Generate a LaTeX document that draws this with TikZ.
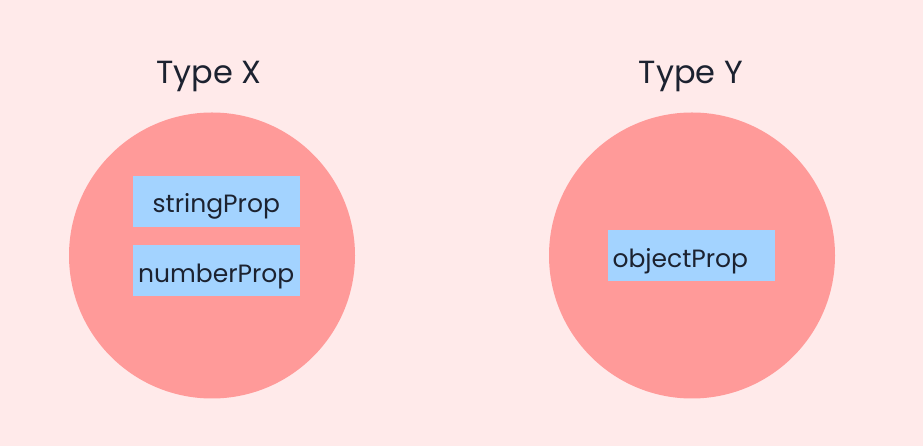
\documentclass[tikz,border=0pt]{standalone}
\usepackage{fontspec}
\setmainfont{Poppins}
\definecolor{bgpink}{HTML}{FFEAEA}
\definecolor{typered}{HTML}{FF9A99}
\definecolor{propblue}{HTML}{A3D3FF}
\definecolor{inkdark}{HTML}{1C2230}
\tikzstyle{type_circle}=[circle, fill=typered, minimum size=286pt, inner sep=0pt]
\tikzstyle{type_title}=[anchor=base, text=inkdark, font=\fontsize{32}{38}\selectfont]
\tikzstyle{prop}=[rectangle, fill=propblue, text=inkdark, minimum width=167pt, minimum height=51pt, inner sep=0pt, text height=26pt, text depth=2.6pt, font=\fontsize{25}{30}\selectfont]
\tikzstyle{prop_left}=[prop, text width=158pt, inner xsep=4.5pt, align=left]

\begin{document}
\begin{tikzpicture}[x=1pt, y=1pt]
    \fill[bgpink] (0,0) rectangle (923,446);
    \useasboundingbox (0,0) rectangle (923,446);

    \node (X) at (212, 190.5) [type_circle] {};
    \node (Y) at (692, 190.5) [type_circle] {};

    \node (titleX) at (209, 362) [type_title] {Type X};
    \node (titleY) at (691, 362) [type_title] {Type Y};

    \node (string) at (216.3, 244.7) [prop] {stringProp};
    \node (number) at (216.3, 175.5) [prop] {numberProp};

    \node (object) at (691.5, 190.5) [prop_left] {objectProp};
\end{tikzpicture}
\end{document}
